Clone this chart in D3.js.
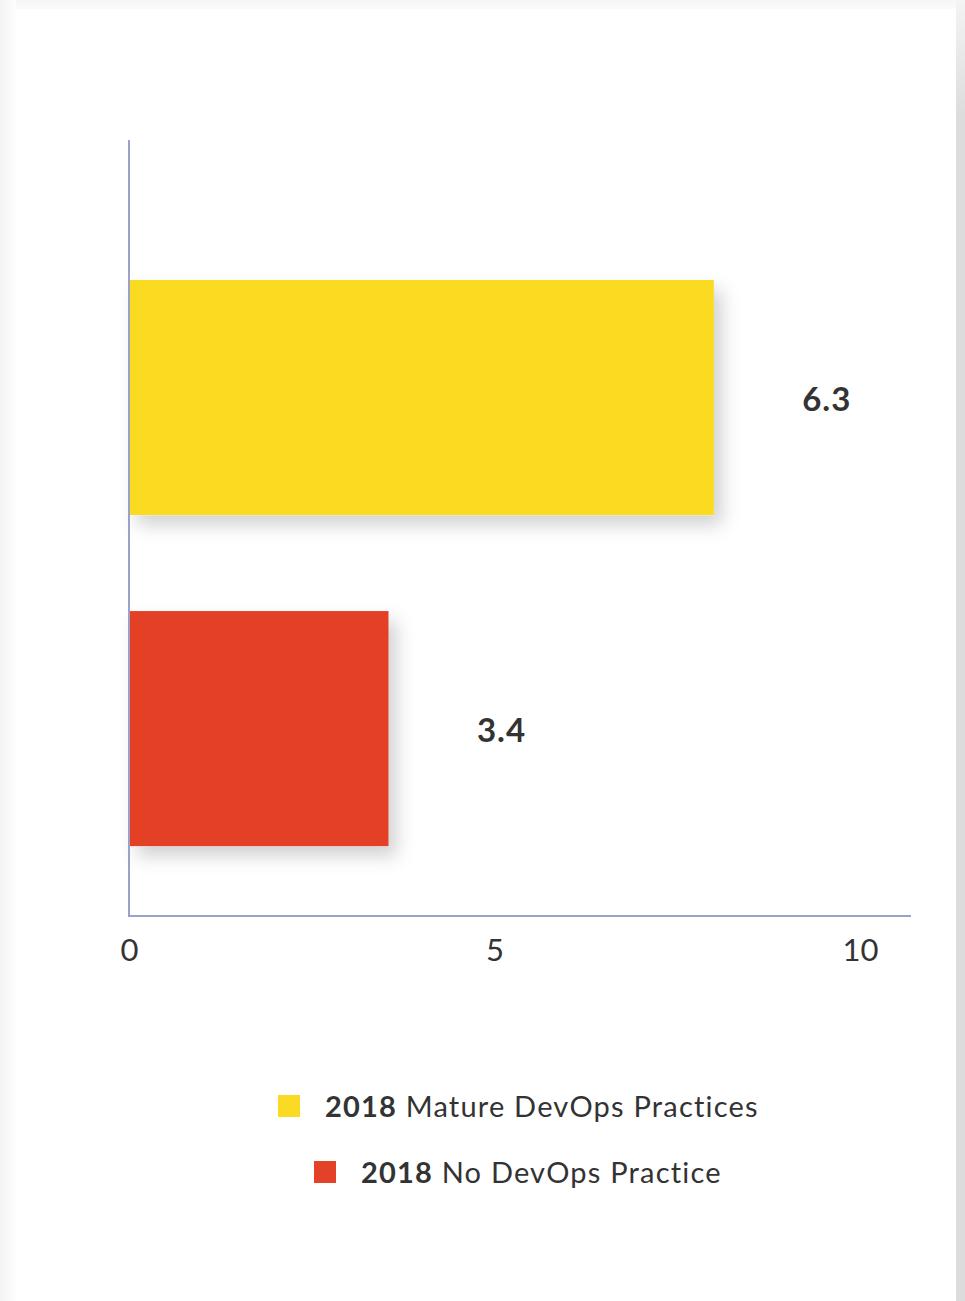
<!DOCTYPE html>
<html>
<head>
<meta charset="utf-8">
<script src="https://cdn.jsdelivr.net/npm/d3@7"></script>
<style>
  html, body { margin: 0; padding: 0; background: #ffffff; }
  svg { display: block; }
</style>
</head>
<body>
<svg id="chart" width="965" height="1301"></svg>
<script>
// ---- data ----
const categories = ["2018 Mature DevOps Practices", "2018 No DevOps Practice"];
const legendYear = ["2018", "2018"];
const legendText = ["Mature DevOps Practices", "No DevOps Practice"];
const barValues = [8.0, 3.55];          // bar lengths read against the axis
const valueLabels = ["6.3", "3.4"];     // printed value labels
const colors = ["#FBDA24", "#E34128"];
const xTicks = [0, 5, 10];

(function () {
const W = 965, H = 1301;
const svg = d3.select("#chart");
const defs = svg.append("defs");

// page shadow / background
const gl = defs.append("linearGradient").attr("id", "gl").attr("x1", 0).attr("x2", 1).attr("y1", 0).attr("y2", 0);
gl.append("stop").attr("offset", 0).attr("stop-color", "#f3f3f3");
gl.append("stop").attr("offset", 1).attr("stop-color", "#fdfdfd");
const gt = defs.append("linearGradient").attr("id", "gt").attr("x1", 0).attr("x2", 0).attr("y1", 0).attr("y2", 1);
gt.append("stop").attr("offset", 0).attr("stop-color", "#f6f6f6");
gt.append("stop").attr("offset", 1).attr("stop-color", "#fbfbfb");
const gr = defs.append("linearGradient").attr("id", "gr").attr("x1", 0).attr("x2", 0).attr("y1", 0).attr("y2", 1);
gr.append("stop").attr("offset", 0).attr("stop-color", "#f4f4f4");
gr.append("stop").attr("offset", 0.09).attr("stop-color", "#dcdcdc");
gr.append("stop").attr("offset", 1).attr("stop-color", "#dcdcdc");

svg.append("rect").attr("x", 0).attr("y", 0).attr("width", W).attr("height", H).attr("fill", "#ffffff");
svg.append("rect").attr("x", 0).attr("y", 0).attr("width", W).attr("height", 9).attr("fill", "url(#gt)");
svg.append("rect").attr("x", 0).attr("y", 0).attr("width", 16).attr("height", H).attr("fill", "url(#gl)");
svg.append("rect").attr("x", 956).attr("y", 0).attr("width", 9).attr("height", H).attr("fill", "url(#gr)");

// bar shadow filter
const f = defs.append("filter").attr("id", "shadow")
  .attr("x", "-20%").attr("y", "-20%").attr("width", "150%").attr("height", "150%");
f.append("feDropShadow").attr("dx", 8).attr("dy", 10).attr("stdDeviation", 9)
  .attr("flood-color", "#000").attr("flood-opacity", 0.18);

// ---- scales ----
const left = 129, axisRight = 911, plotTop = 140, plotBottom = 916;
const x = d3.scaleLinear().domain([0, 10]).range([left, 860]);
const y = d3.scaleBand().domain(categories).range([plotTop, plotBottom])
  .paddingInner(0.29).paddingOuter(0.317).align(0.667);

const FONT = "Lato, 'Open Sans', sans-serif";

// bars
svg.append("g").selectAll("rect").data(categories).join("rect")
  .attr("x", x(0))
  .attr("y", d => y(d))
  .attr("width", (d, i) => x(barValues[i]) - x(0))
  .attr("height", y.bandwidth())
  .attr("fill", (d, i) => colors[i])
  .attr("filter", "url(#shadow)");

// axes
const axisColor = "#9ca1c9";
const xAxis = d3.axisBottom(x).tickValues(xTicks).tickSize(0).tickPadding(23).tickFormat(d3.format("d"));
const gx = svg.append("g").attr("transform", `translate(0,${plotBottom})`).call(xAxis);
gx.select(".domain").remove();
gx.selectAll("text").attr("font-family", FONT).attr("font-size", 31).attr("fill", "#333333").attr("dy", "0.71em");
svg.append("line").attr("x1", left).attr("x2", axisRight).attr("y1", plotBottom).attr("y2", plotBottom)
  .attr("stroke", axisColor).attr("stroke-width", 2);
svg.append("line").attr("x1", left).attr("x2", left).attr("y1", plotTop).attr("y2", plotBottom + 1)
  .attr("stroke", axisColor).attr("stroke-width", 2);

// value labels
svg.append("g").selectAll("text").data(categories).join("text")
  .attr("x", (d, i) => x(barValues[i]) + 113)
  .attr("y", d => y(d) + y.bandwidth() / 2)
  .attr("dy", "0.4em")
  .attr("text-anchor", "middle")
  .attr("font-family", FONT).attr("font-weight", 700).attr("font-size", 33)
  .attr("letter-spacing", 1)
  .attr("fill", "#333333")
  .text((d, i) => valueLabels[i]);

// legend
const legendX = [278, 314], legendY = [1106, 1172];
const lg = svg.append("g").selectAll("g").data(categories).join("g")
  .attr("transform", (d, i) => `translate(${legendX[i]},${legendY[i]})`);
lg.append("rect").attr("x", 0).attr("y", -11).attr("width", 22).attr("height", 22)
  .attr("fill", (d, i) => colors[i]);
const lt = lg.append("text").attr("x", 47).attr("y", 0).attr("dy", "0.38em")
  .attr("font-family", FONT).attr("font-size", 29).attr("letter-spacing", 1.2).attr("fill", "#333333");
lt.append("tspan").attr("font-weight", 700).text((d, i) => legendYear[i]);
lt.append("tspan").text((d, i) => " " + legendText[i]);
})();
</script>
</body>
</html>
